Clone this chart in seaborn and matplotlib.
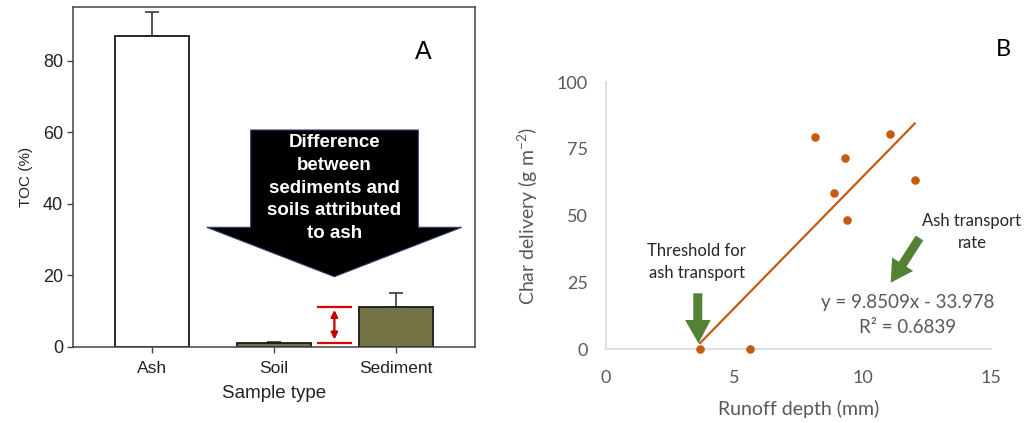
import numpy as np
import pandas as pd
import matplotlib
matplotlib.use("Agg")
import matplotlib.pyplot as plt
import matplotlib.transforms as mtrans
from matplotlib.patches import Polygon, FancyArrow
import seaborn as sns

# ---------------- data ----------------
sample_types = ["Ash", "Soil", "Sediment"]
toc_mean = [87.0, 1.1, 11.2]
toc_err = [6.7, 0.2, 3.9]
bar_colors = ["#FFFFFF", "#7B7B3E", "#7B7B3E"]

runoff_mm = [3.67, 5.62, 8.16, 9.32, 8.89, 9.41, 11.08, 12.04]
char_gm2 = [0.0, 0.0, 79.6, 71.6, 58.5, 48.3, 80.7, 63.2]
slope = 9.8509
intercept = -33.978
r2 = 0.6839

yticks_a = [0, 20, 40, 60, 80]
xticks_b = [0, 5, 10, 15]
yticks_b = [0, 25, 50, 75, 100]

# ---------------- figure ----------------
sns.set_theme(style="white")
plt.rcParams["font.family"] = ["Liberation Sans", "DejaVu Sans"]
plt.rcParams["mathtext.default"] = "regular"

W, H = 1024, 423
fig = plt.figure(figsize=(W / 100, H / 100), dpi=100)
fig.patch.set_facecolor("white")
# transform: reference pixel coords (origin top-left) -> display
pix = mtrans.Affine2D().scale(1 / 100, -1 / 100).translate(0, H / 100) + fig.dpi_scale_trans


def frac(x0, y0, x1, y1):
    return [x0 / W, 1 - y1 / H, (x1 - x0) / W, (y1 - y0) / H]


# ---------------- panel A ----------------
ax1 = fig.add_axes(frac(72.7, 7, 475.3, 346.7))
df_a = pd.DataFrame({"type": sample_types, "toc": toc_mean})
sns.barplot(data=df_a, x="type", y="toc", hue="type", palette=bar_colors,
            legend=False, width=0.6, edgecolor="#1a1a1a", linewidth=1.3,
            errorbar=None, ax=ax1, zorder=2)
ax1.errorbar(x=np.arange(len(sample_types)), y=toc_mean,
             yerr=[np.zeros(len(toc_err)), toc_err], fmt="none",
             ecolor="#3a3a3a", elinewidth=1.2, capsize=5, capthick=1.2, zorder=1)
ax1.set_xlim(-0.65, 2.65)
ax1.set_ylim(0, 95.1)
ax1.set_yticks(yticks_a)
ax1.set_xlabel("Sample type", fontsize=13.5, color="#222222", labelpad=7)
ax1.set_ylabel("TOC (%)", fontsize=11, color="#222222", labelpad=7)
for sp in ax1.spines.values():
    sp.set_color("#444444")
    sp.set_linewidth(1.1)
ax1.tick_params(axis="both", direction="out", length=4, width=1, color="#444444",
                labelcolor="#222222", bottom=True, left=True)
ax1.tick_params(axis="y", labelsize=13, pad=3)
ax1.tick_params(axis="x", labelsize=12.5, pad=6)

# red difference marker between soil and sediment levels
ax1.hlines([toc_mean[1], toc_mean[2]], 1.35, 1.64, colors="#E00000", linewidth=1.6, zorder=3)
ax1.annotate("", xy=(1.495, toc_mean[1] + 0.9), xytext=(1.495, toc_mean[2] - 0.9),
             arrowprops=dict(arrowstyle="<|-|>", color="#C00000", lw=1.6,
                             mutation_scale=10, shrinkA=0, shrinkB=0), zorder=3)

ax1.text(423, 52, "A", transform=pix, fontsize=18, ha="center", va="center", color="black")

# big black block arrow with text
blk = Polygon([(250.7, 130), (418.3, 130), (418.3, 227.3), (461.7, 227.3),
               (334.3, 276.7), (206.7, 227.3), (250.7, 227.3)], closed=True,
              transform=pix, facecolor="black", edgecolor="#2F3F6F", linewidth=0.8)
fig.patches.append(blk)
arrow_lines = ["Difference", "between", "sediments and", "soils attributed", "to ash"]
for i, line in enumerate(arrow_lines):
    fig.text(334.5, 142.7 + 22.7 * i, line, transform=pix, color="white",
             fontsize=13.5, fontweight="bold", ha="center", va="center")

# ---------------- panel B ----------------
ax2 = fig.add_axes(frac(605.7, 82.3, 991, 349))
fontB = ["Lato", "DejaVu Sans"]
greyB = "#595959"
orange = "#C55A11"
df_b = pd.DataFrame({"runoff": runoff_mm, "char": char_gm2})
sns.scatterplot(data=df_b, x="runoff", y="char", color=orange, s=38,
                edgecolor=orange, linewidth=0, ax=ax2, zorder=3, clip_on=False)
x_fit = np.array([min(runoff_mm), max(runoff_mm)])
sns.lineplot(x=x_fit, y=slope * x_fit + intercept, color=orange, linewidth=1.6,
             ax=ax2, zorder=2)
ax2.set_xlim(0, 15)
ax2.set_ylim(0, 100)
ax2.set_xticks(xticks_b)
ax2.set_yticks(yticks_b)
for side in ["top", "right"]:
    ax2.spines[side].set_visible(False)
for side in ["left", "bottom"]:
    ax2.spines[side].set_color("#D9D9D9")
    ax2.spines[side].set_linewidth(1.2)
ax2.tick_params(axis="both", length=0, labelcolor=greyB, labelsize=13)
ax2.tick_params(axis="y", pad=13)
ax2.tick_params(axis="x", pad=15)
for lab in ax2.get_xticklabels() + ax2.get_yticklabels():
    lab.set_family(fontB)
ax2.set_xlabel("Runoff depth (mm)", fontsize=14, color=greyB, family=fontB, labelpad=10)
ax2.set_ylabel("Char delivery (g m$^{-2}$)", fontsize=14, color=greyB, family=fontB, labelpad=12)

fig.text(1003, 49, "B", transform=pix, fontsize=17, ha="center", va="center",
         color="black", family=fontB)

fig.text(696.7, 250.7, "Threshold for", transform=pix, fontsize=12, ha="center",
         va="center", color="#262626", family=fontB)
fig.text(696.7, 273.3, "ash transport", transform=pix, fontsize=12, ha="center",
         va="center", color="#262626", family=fontB)
fig.text(972, 221, "Ash transport", transform=pix, fontsize=12, ha="center",
         va="center", color="#262626", family=fontB)
fig.text(972, 243.3, "rate", transform=pix, fontsize=12, ha="center",
         va="center", color="#262626", family=fontB)
fig.text(907.3, 302.7, f"y = {slope:.4f}x - {abs(intercept):.3f}", transform=pix,
         fontsize=13.5, ha="center", va="center", color=greyB, family=fontB)
fig.text(907.3, 327.7, f"R² = {r2:.4f}", transform=pix,
         fontsize=13.5, ha="center", va="center", color=greyB, family=fontB)

green = "#548235"
g1 = Polygon([(693.3, 293.3), (702.3, 293.3), (702.3, 320), (710.7, 320),
              (698.5, 343.3), (685, 320), (693.3, 320)], closed=True,
             transform=pix, facecolor=green, edgecolor="none")
fig.patches.append(g1)
g2 = FancyArrow(919.5, 238, 890.7 - 919.5, 282.7 - 238, width=9, head_width=25,
                head_length=22, length_includes_head=True, transform=pix,
                facecolor=green, edgecolor="none")
fig.patches.append(g2)

fig.savefig("out.png", dpi=100, facecolor="white")
